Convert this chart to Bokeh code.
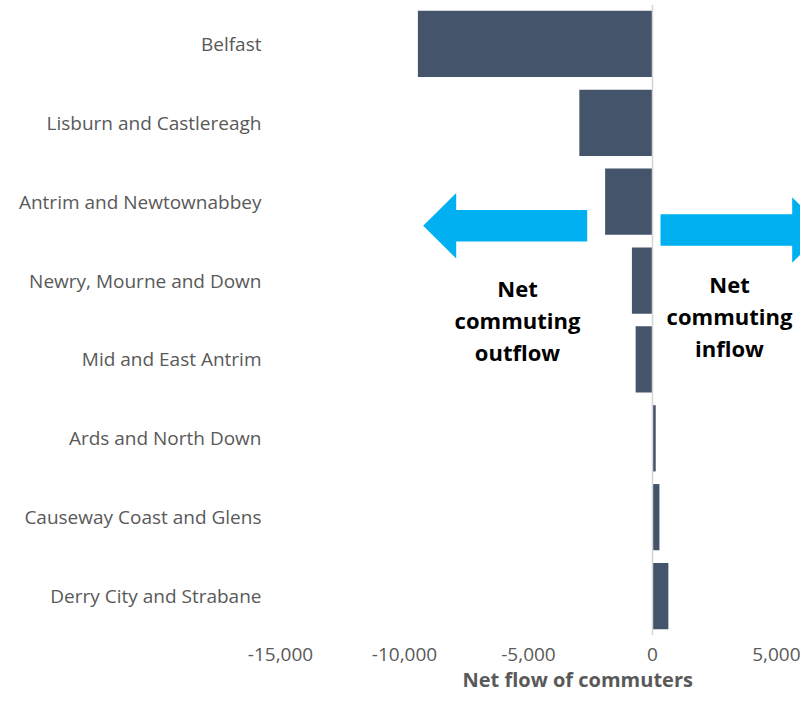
from bokeh.plotting import figure
from bokeh.models import Range1d, FactorRange, Span, Title, NumeralTickFormatter, FixedTicker, ColumnDataSource
from bokeh.core.properties import value
from bokeh.embed import file_html
from bokeh.resources import INLINE

# ---- data ----
regions = ["Belfast", "Lisburn and Castlereagh", "Antrim and Newtownabbey",
           "Newry, Mourne and Down", "Mid and East Antrim", "Ards and North Down",
           "Causeway Coast and Glens", "Derry City and Strabane"]
net_flow = [-9460, -2950, -1910, -830, -680, 130, 280, 640]
x_ticks = [-15000, -10000, -5000, 0, 5000]
x_title = "Net flow of commuters"
out_lines = ["Net", "commuting", "outflow"]
in_lines = ["Net", "commuting", "inflow"]

FONT = "Open Sans"
BAR = "#44546A"
ARROW = "#00B0F0"
GREY = "#595959"

p = figure(width=800, height=692,
           y_range=FactorRange(factors=regions[::-1]),
           x_range=Range1d(-15000, 5968),
           output_backend="svg", toolbar_location=None,
           min_border_left=280, min_border_right=0,
           min_border_top=4, min_border_bottom=0)

p.outline_line_color = None
p.xgrid.visible = False
p.ygrid.visible = False

for ax in (p.xaxis, p.yaxis):
    ax.axis_line_color = None
    ax.major_tick_line_color = None
    ax.minor_tick_line_color = None
    ax.major_tick_out = 0
    ax.major_tick_in = 0
    ax.minor_tick_out = 0
    ax.major_label_text_font = FONT
    ax.major_label_text_color = GREY
    ax.major_label_text_font_size = "19px"

p.xaxis.ticker = FixedTicker(ticks=x_ticks)
p.xaxis.formatter = NumeralTickFormatter(format="0,0")
p.xaxis.major_label_standoff = 12
p.yaxis.major_label_standoff = 19

src = ColumnDataSource(dict(region=regions, flow=net_flow))
p.hbar(y="region", left=0, right="flow", height=0.84, source=src,
       fill_color=BAR, line_color=None)

p.add_layout(Span(location=0, dimension="height", line_color="#D4D4D4", line_width=1.5))

# block arrows (annotation shapes)
def block_arrow(tip, back, end, yc, sh, hh):
    xs = [tip, back, back, end, end, back, back]
    ys = [yc, yc + hh, yc + sh, yc + sh, yc - sh, yc - sh, yc - hh]
    return xs, ys

lx, ly = block_arrow(-9246, -7915, -2633, 5.195, 0.201, 0.415)
p.patch(lx, ly, fill_color=ARROW, line_color=None)
rx, ry = block_arrow(6976, 5633, 323, 5.141, 0.201, 0.416)
p.patch(rx, ry, fill_color=ARROW, line_color=None)

p.text(x=[-5444] * 3, y=[4.403, 4.000, 3.597], text=out_lines,
       text_align="center", text_baseline="alphabetic",
       text_font=value(FONT), text_font_style="bold", text_font_size="22px",
       text_color="black")
p.text(x=[3105] * 3, y=[4.453, 4.050, 3.648], text=in_lines,
       text_align="center", text_baseline="alphabetic",
       text_font=value(FONT), text_font_style="bold", text_font_size="22px",
       text_color="black")

p.add_layout(Title(text=x_title, align="left", offset=182, standoff=0,
                   text_font=FONT, text_font_style="bold",
                   text_font_size="20px", text_color=GREY), "below")

open("out.html", "w").write(file_html(p, INLINE))
